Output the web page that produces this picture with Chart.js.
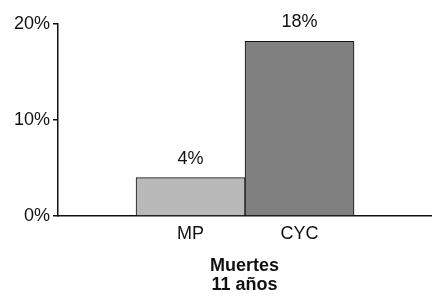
<!DOCTYPE html>
<html>
<head>
<meta charset="utf-8">
<script src="https://cdn.jsdelivr.net/npm/chart.js@4"></script>
<style>
  html, body { margin: 0; padding: 0; background: #fff; }
  #wrap { width: 448px; height: 304px; }
</style>
</head>
<body>
<div id="wrap"><canvas id="chart" width="448" height="304"></canvas></div>
<script>
// Values
const categories = ["MP", "CYC"];
const deaths = [4, 18.2];
const valueLabels = ["4%", "18%"];
const yTicks = [0, 10, 20];
const titleLines = ["Muertes", "11 años"];

const barColors = ["#b9b9b9", "#808080"];
const FONT = "'Liberation Sans', Arial, Helvetica, sans-serif";

// labels above each bar, placed from the bar elements themselves
const valueLabelPlugin = {
  id: "valueLabels",
  afterDatasetsDraw(chart){
    const ctx = chart.ctx;
    const meta = chart.getDatasetMeta(0);
    ctx.save();
    ctx.font = "18px " + FONT;
    ctx.fillStyle = "#111";
    ctx.textAlign = "center";
    ctx.textBaseline = "middle";
    meta.data.forEach((bar, i)=>{
      ctx.fillText(valueLabels[i], bar.x, bar.y - 19);
    });
    ctx.restore();
  }
};

new Chart(document.getElementById("chart"), {
  type: "bar",
  data: {
    datasets: [{
      data: categories.map((c, i)=>({ x: i + 1, y: deaths[i] })),
      backgroundColor: barColors,
      borderColor: "#111",
      borderWidth: 1,
      barPercentage: 1,
      categoryPercentage: 1
    }]
  },
  plugins: [valueLabelPlugin],
  options: {
    responsive: false,
    animation: false,
    layout: { padding: { top: 24, right: 17, left: 0, bottom: 0 } },
    plugins: { legend: { display: false }, tooltip: { enabled: false } },
    scales: {
      x: {
        type: "linear",
        offset: false,
        min: -0.216,
        max: 3.206,
        afterBuildTicks(scale){ scale.ticks = categories.map((c, i)=>({ value: i + 1 })); },
        afterFit(scale){ scale.height = 88; },
        grid: { display: false, drawTicks: false },
        border: { display: true, color: "#111", width: 1.5 },
        ticks: {
          padding: 7,
          color: "#111",
          font: { family: FONT, size: 18 },
          callback: v => categories[v - 1] || ""
        },
        title: {
          display: true,
          text: titleLines,
          color: "#111",
          font: { family: FONT, size: 18, weight: "bold", lineHeight: 19 / 18 },
          padding: { top: 0, bottom: 9 }
        }
      },
      y: {
        min: 0,
        max: 20,
        afterBuildTicks(scale){ scale.ticks = yTicks.map(v=>({ value: v })); },
        afterFit(scale){ scale.width = 58; },
        grid: { drawOnChartArea: false, drawTicks: true, tickLength: 5, color: "#111", lineWidth: 1.5 },
        border: { display: true, color: "#111", width: 1.5 },
        ticks: {
          padding: 3,
          color: "#111",
          font: { family: FONT, size: 18 },
          callback: v => v + "%"
        }
      }
    }
  }
});
</script>
</body>
</html>
